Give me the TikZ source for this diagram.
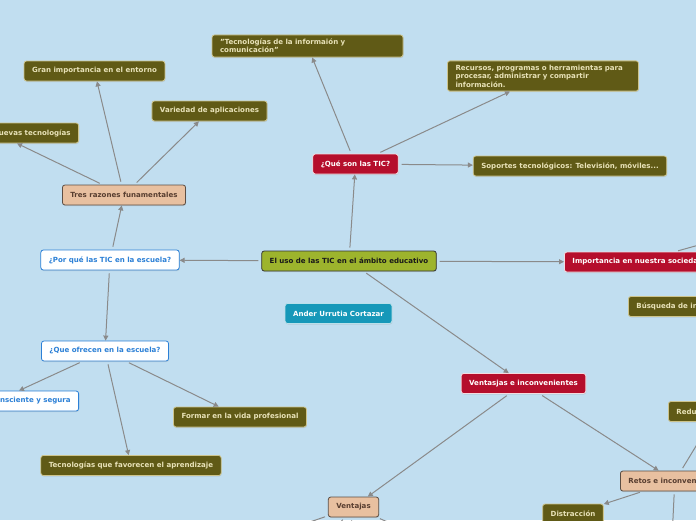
\documentclass[tikz,border=0pt]{standalone}
\usepackage{fontspec}
\setmainfont{DejaVu Sans}
\usepackage{tikz}
\usetikzlibrary{arrows.meta,shadows}

\definecolor{bgblue}{RGB}{193,222,240}
\definecolor{leaffill}{RGB}{96,90,22}
\definecolor{leafline}{RGB}{205,196,140}
\definecolor{leaftext}{RGB}{232,226,184}
\definecolor{redfill}{RGB}{181,14,44}
\definecolor{tanfill}{RGB}{232,192,160}
\definecolor{tanline}{RGB}{92,78,68}
\definecolor{tantext}{RGB}{88,62,48}
\definecolor{mainfill}{RGB}{157,180,45}
\definecolor{askblue}{RGB}{44,128,214}
\definecolor{tealfill}{RGB}{22,152,185}
\definecolor{arrgray}{RGB}{138,138,138}

\begin{document}
\begin{tikzpicture}[
                x=1pt, y=-1pt,
                font=\fontsize{7.05}{8.4}\selectfont\bfseries,
                box/.style={rectangle, rounded corners=2.5pt, minimum height=20pt, inner xsep=8pt, inner ysep=3pt, line width=0.8pt, drop shadow={shadow xshift=0.5pt, shadow yshift=-1pt, opacity=0.2}},
                leafbox/.style={box, fill=leaffill, draw=leafline, text=leaftext},
                longbox/.style={text width=175pt, align=left, inner ysep=4pt},
                redbox/.style={box, fill=redfill, draw=white!85!redfill, text=white},
                tanbox/.style={box, fill=tanfill, draw=tanline, text=tantext},
                askbox/.style={box, fill=white, draw=askblue, text=askblue},
                mainbox/.style={box, fill=mainfill, draw=black!80, text=black!90},
                authorbox/.style={box, fill=tealfill, draw=white!70!tealfill, text=white},
                arr/.style={-{Triangle[length=5pt,width=5pt]}, line width=1pt, arrgray, shorten <=3pt},
            ]
            \useasboundingbox (0,0) rectangle (696,520);
            \fill[bgblue] (0,0) rectangle (696,520);
            \clip (0,0) rectangle (696,520);

            \node[mainbox] (uso) at (349,261) {El uso de las TIC en el ámbito educativo};
            \node[authorbox] (autor) at (338.5,313.5) {Ander Urrutia Cortazar};

            \node[redbox] (que) at (355.5,164) {¿Qué son las TIC?};
            \node[leafbox, longbox] (def) at (307.5,46) {"Tecnologías de la informaión y\\comunicación"};
            \node[leafbox, longbox] (recursos) at (543,76) {Recursos, programas o herramientas para\\procesar, administrar y compartir\\información.};
            \node[leafbox] (soportes) at (570,166) {Soportes tecnológicos: Televisión, móviles...};

            \node[askbox] (porque) at (110,260) {¿Por qué las TIC en la escuela?};
            \node[tanbox] (razones) at (124,195) {Tres razones funamentales};
            \node[leafbox] (entorno) at (94.5,71) {Gran importancia en el entorno};
            \node[leafbox] (variedad) at (209.5,111) {Variedad de aplicaciones};
            \node[leafbox, anchor=east] (nuevas) at (79,133) {Nuevas tecnologías};

            \node[askbox] (ofrecen) at (105,351) {¿Que ofrecen en la escuela?};
            \node[askbox, anchor=east] (segura) at (79,401) {Uso consciente y segura};
            \node[leafbox] (formar) at (240,417) {Formar en la vida profesional};
            \node[leafbox] (favorecen) at (131,465.5) {Tecnologías que favorecen el aprendizaje};

            \node[redbox, anchor=west] (importancia) at (564,262) {Importancia en nuestra sociedad};
            \node[leafbox, anchor=west] (busqueda) at (628,306.5) {Búsqueda de información};

            \node[redbox] (ventinc) at (523.5,383.5) {Ventasjas e inconvenientes};
            \node[tanbox] (ventajas) at (353.5,507) {Ventajas};
            \node[tanbox, anchor=west] (retos) at (620,481) {Retos e inconvenientes};
            \node[leafbox, anchor=west] (reduccion) at (668,411.5) {Reducción de costes};
            \node[leafbox] (distraccion) at (573,514) {Distracción};

            % ramas que siguen fuera del marco
            \coordinate (imp-sig) at (760,228);
            \coordinate (retos-sig) at (671,560);
            \coordinate (vent-a) at (240,546);
            \coordinate (vent-b) at (300,570);
            \coordinate (vent-c) at (345,570);
            \coordinate (vent-d) at (440,545);

            \draw[arr] (uso) -- (que);
            \draw[arr] (uso) -- (porque);
            \draw[arr] (uso) -- (importancia);
            \draw[arr] (uso) -- (ventinc);

            \draw[arr] (que) -- (def);
            \draw[arr] (que) -- (recursos);
            \draw[arr] (que) -- (soportes);

            \draw[arr] (porque) -- (razones);
            \draw[arr] (porque) -- (ofrecen);
            \draw[arr] (razones) -- (entorno);
            \draw[arr] (razones) -- (variedad);
            \draw[arr] (razones) -- ([xshift=-62pt]nuevas.south east);
            \draw[arr] (ofrecen) -- ([xshift=-60pt]segura.north east);
            \draw[arr] (ofrecen) -- (favorecen);
            \draw[arr] (ofrecen) -- (formar);

            \draw[arr] (importancia) -- (imp-sig);
            \draw[arr] (ventinc) -- (ventajas);
            \draw[arr] (ventinc) -- (retos);
            \draw[arr] (retos) -- (reduccion);
            \draw[arr] (retos) -- (distraccion);
            \draw[arr] (retos) -- (retos-sig);
            \draw[arr] (ventajas) -- (vent-a);
            \draw[arr] (ventajas) -- (vent-b);
            \draw[arr] (ventajas) -- (vent-c);
            \draw[arr] (ventajas) -- (vent-d);
        \end{tikzpicture}
\end{document}
